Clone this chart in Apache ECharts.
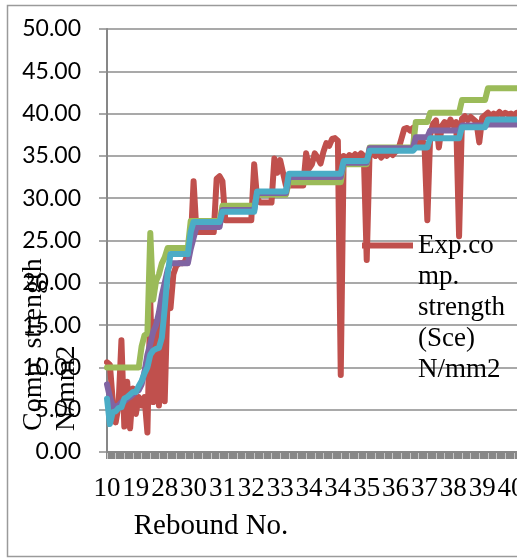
<!DOCTYPE html>
<html><head><meta charset="utf-8">
<script src="https://cdn.jsdelivr.net/npm/echarts@6/dist/echarts.min.js"></script>
<style>html,body{margin:0;padding:0;overflow:hidden;background:#fff;width:517px;height:560px}#c{width:560px;height:560px}</style>
</head><body><div id="c"></div>
<script>
// Rebound numbers (category axis), one per sample
const reboundNo = [
10,11,12,13,14,15,16,17,18,18,
19,20,21,22,23,24,25,26,27,27,
28,28,28,28,28,29,29,29,29,30,
30,30,30,30,30,30,30,30,30,30,
31,31,31,31,31,31,31,31,31,31,
32,32,32,32,32,32,32,32,32,32,
33,33,33,33,33,33,33,33,33,33,
34,34,34,34,34,34,34,34,34,34,
34,34,34,34,34,34,34,34,34,34,
35,35,35,35,35,35,35,35,35,35,
36,36,36,36,36,36,36,36,36,36,
37,37,37,37,37,37,37,37,37,37,
38,38,38,38,38,38,38,38,38,38,
39,39,39,39,39,39,39,39,39,39,
40,40,40,40,40,40,40,40,40,40];

const expName = 'Exp.comp. strength (Sce) N/mm2';
const expStrength = [
10.6,10.3,6.0,3.5,5.5,13.2,3.0,8.3,2.8,7.5,
4.5,6.5,5.5,6.5,2.3,17.8,5.9,15.4,5.5,17.4,
6.0,18.5,17.0,21.0,22.0,22.3,22.3,22.5,23.5,24.5,
32.0,26.0,26.0,26.0,26.0,26.0,26.0,26.0,32.3,32.6,
32.0,27.4,27.4,27.4,27.4,27.4,27.4,27.4,27.4,27.4,
27.4,34.0,30.0,29.5,29.5,29.5,29.5,29.5,34.7,33.0,
34.5,33.0,31.5,31.5,31.5,31.5,31.5,31.5,31.5,35.3,
33.5,34.0,35.3,34.8,34.1,35.5,36.5,36.2,37.0,37.1,
36.8,9.1,35.0,34.6,35.1,34.8,35.2,34.9,35.3,35.0,
22.7,35.6,35.3,35.0,35.4,34.8,35.2,35.0,35.4,35.1,
35.5,35.8,37.0,38.2,38.3,38.0,38.3,36.5,36.2,36.8,
36.5,27.4,37.5,38.8,39.2,36.0,38.5,39.0,38.4,39.3,
38.6,39.0,25.5,39.4,39.7,39.2,39.6,39.3,39.0,36.6,
39.5,39.8,40.1,39.7,40.0,39.8,40.2,39.8,40.1,39.9,
40.0,39.8,40.1,40.0,39.9,40.2,40.0,39.8,40.1,40.0];

const estName1 = 'Est. strength 1';
const estStrength1 = [
10.0,10.0,10.0,10.0,10.0,10.0,10.0,10.0,10.0,10.0,
10.0,10.0,12.5,13.8,14.0,25.9,18.0,20.2,21.0,22.3,
23.0,24.1,24.1,24.1,24.1,24.1,24.1,24.1,24.1,27.3,
27.3,27.3,27.3,27.3,27.3,27.3,27.3,27.3,27.3,27.3,
29.1,29.1,29.1,29.1,29.1,29.1,29.1,29.1,29.1,29.1,
29.1,29.1,30.4,30.4,30.4,30.4,30.4,30.4,30.4,30.4,
30.4,30.4,30.4,31.9,31.9,31.9,31.9,31.9,31.9,31.9,
31.9,31.9,31.9,31.9,31.9,31.9,31.9,31.9,31.9,31.9,
31.9,31.9,34.0,34.0,34.0,34.0,34.0,34.0,34.0,34.0,
34.0,36.0,36.0,36.0,36.0,36.0,36.0,36.0,36.0,36.0,
36.0,36.0,36.0,36.0,36.0,36.0,36.0,39.0,39.0,39.0,
39.0,39.0,40.1,40.1,40.1,40.1,40.1,40.1,40.1,40.1,
40.1,40.1,40.1,41.6,41.6,41.6,41.6,41.6,41.6,41.6,
41.6,41.6,43.0,43.0,43.0,43.0,43.0,43.0,43.0,43.0,
43.0,43.0,43.0,43.0,43.0,43.0,43.0,43.0,43.0,43.0];

const estName2 = 'Est. strength 2';
const estStrength2 = [
8.0,6.5,5.4,5.4,5.5,5.9,6.0,6.3,6.5,6.8,
7.1,7.3,8.0,9.5,11.5,12.8,14.2,15.0,16.5,18.5,
20.0,21.5,22.3,22.3,22.3,22.3,22.3,22.3,22.3,24.0,
25.3,26.6,26.6,26.6,26.6,26.6,26.6,26.6,26.6,26.6,
28.6,28.6,28.6,28.6,28.6,28.6,28.6,28.6,28.6,28.6,
28.6,28.6,30.6,30.6,30.6,30.6,30.6,30.6,30.6,30.6,
30.6,30.6,30.6,32.5,32.5,32.5,32.5,32.5,32.5,32.5,
32.5,32.5,32.5,32.5,32.5,32.5,32.5,32.5,32.5,32.5,
32.5,32.5,34.2,34.2,34.2,34.2,34.2,34.2,34.2,34.2,
34.2,35.9,35.9,35.9,35.9,35.9,35.9,35.9,35.9,35.9,
35.9,35.9,35.9,35.9,35.9,35.9,35.9,37.2,37.2,37.2,
37.2,37.2,38.0,38.0,38.0,38.0,38.0,38.0,38.0,38.0,
38.0,38.0,38.0,38.6,38.6,38.6,38.6,38.6,38.6,38.6,
38.6,38.6,38.7,38.7,38.7,38.7,38.7,38.7,38.7,38.7,
38.7,38.7,38.7,38.7,38.7,38.7,38.7,38.7,38.7,38.7];

const estName3 = 'Est. strength 3';
const estStrength3 = [
6.3,3.3,4.7,4.8,5.2,5.3,6.3,6.5,6.8,7.1,
7.1,7.8,8.4,9.3,10.0,11.5,12.0,12.2,12.3,13.5,
17.0,21.0,23.4,23.4,23.4,23.4,23.4,23.4,23.4,26.0,
27.2,27.2,27.2,27.2,27.2,27.2,27.2,27.2,27.2,27.2,
28.4,28.4,28.4,28.4,28.4,28.4,28.4,28.4,28.4,28.4,
28.4,28.4,30.8,30.8,30.8,30.8,30.8,30.8,30.8,30.8,
30.8,30.8,30.8,32.9,32.9,32.9,32.9,32.9,32.9,32.9,
32.9,32.9,32.9,32.9,32.9,32.9,32.9,32.9,32.9,32.9,
32.9,32.9,34.4,34.4,34.4,34.4,34.4,34.4,34.4,34.4,
34.4,35.6,35.6,35.6,35.6,35.6,35.6,35.6,35.6,35.6,
35.6,35.6,35.6,35.6,35.6,35.6,35.6,36.0,36.0,36.0,
36.0,36.0,37.1,37.1,37.1,37.1,37.1,37.1,37.1,37.1,
37.1,37.1,37.1,38.4,38.4,38.4,38.4,38.4,38.4,38.4,
38.4,38.4,39.3,39.3,39.3,39.3,39.3,39.3,39.3,39.3,
39.3,39.3,39.3,39.3,39.3,39.3,39.3,39.3,39.3,39.3];

const legendText = 'Exp.co\nmp.\nstrength\n(Sce)\nN/mm2';
const yTitle = 'Comp. strength\nN/mm2';
const xTitle = 'Rebound No.';

const chart = echarts.init(document.getElementById('c'), null, {renderer: 'canvas'});
function lineSeries(name, data, color) {
  return {
    name: name, type: 'line', data: data, symbol: 'none', showSymbol: false,
    lineStyle: {width: 6, color: color, join: 'round', cap: 'round'},
    itemStyle: {color: color}, emphasis: {disabled: true}
  };
}
chart.setOption({
  animation: false,
  grid: {left: 107, top: 29, right: 23, bottom: 108, containLabel: false},
  legend: {
    data: [expName], left: 362, top: 230, padding: 0, itemWidth: 51, itemHeight: 130,
    icon: 'path://M0,0L51,0L51,6L0,6Z M0,130L0.01,130Z',
    formatter: function () { return legendText; },
    textStyle: {fontFamily: 'Liberation Serif', fontSize: 27, lineHeight: 31, color: '#000'}
  },
  xAxis: [{
    type: 'category', data: reboundNo, boundaryGap: false,
    axisLine: {lineStyle: {color: '#878787', width: 2}},
    axisTick: {interval: 0, length: 7, lineStyle: {color: '#878787', width: 3}},
    axisLabel: {interval: 9, margin: 23, fontFamily: 'Liberation Serif', fontSize: 27, color: '#000'},
    name: xTitle, nameLocation: 'middle', nameGap: 60,
    nameTextStyle: {fontFamily: 'Liberation Serif', fontSize: 29, color: '#000', padding: [0, 222, 0, 0]},
    splitLine: {show: false}
  }, {
    type: 'category', data: reboundNo, boundaryGap: false, position: 'bottom', offset: 1, z: 5,
    axisLine: {show: false},
    axisTick: {interval: 2, length: 6, lineStyle: {color: '#c9c9c9', width: 1}},
    axisLabel: {show: false}, splitLine: {show: false}
  }],
  yAxis: {
    type: 'value', min: 0, max: 50, interval: 5,
    axisLine: {show: true, lineStyle: {color: '#878787', width: 2}},
    axisTick: {show: true, length: 8, lineStyle: {color: '#8c8c8c', width: 1.5}},
    splitLine: {lineStyle: {color: '#8c8c8c', width: 1.5}},
    axisLabel: {formatter: function (v) { return v.toFixed(2); }, margin: 26, fontFamily: 'Lato', fontSize: 23, color: '#000'}
  },
  graphic: [
    {type: 'rect', silent: true, z: -10, shape: {x: 7.5, y: 5.5, width: 600, height: 551},
     style: {fill: 'none', stroke: '#9a9a9a', lineWidth: 1.5}},
    {type: 'text', silent: true, x: 17, y: 431, rotation: Math.PI / 2, z: 10,
     style: {text: yTitle, fontFamily: 'Liberation Serif', fontSize: 28, lineHeight: 33, fill: '#000',
             align: 'left', verticalAlign: 'top', textAlign: 'left', textVerticalAlign: 'top'}}
  ],
  series: [
    lineSeries(expName, expStrength, '#C0504D'),
    lineSeries(estName1, estStrength1, '#9BBB59'),
    lineSeries(estName2, estStrength2, '#8064A2'),
    lineSeries(estName3, estStrength3, '#4BACC6')
  ]
});
</script></body></html>
